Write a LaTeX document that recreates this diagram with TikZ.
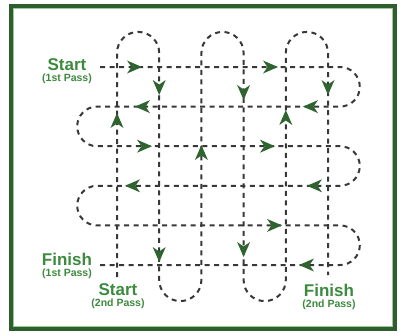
\documentclass[tikz,border=0pt]{standalone}
\usepackage{fontspec}
\setmainfont{Liberation Sans}
\usetikzlibrary{calc}
\definecolor{cLine}{HTML}{383838}
\definecolor{cArr} {HTML}{2F6330}
\definecolor{cTxt} {HTML}{3C8A3E}
\definecolor{cFrm} {HTML}{2E5E2E}
\definecolor{cFrmL}{HTML}{9CC89C}
\tikzset{
  pass/.style  ={draw=cLine,line width=2pt,dash pattern=on 5pt off 4.5pt},
  lbl/.style   ={text=cTxt,align=center,inner sep=0pt,
                 font=\bfseries\fontsize{17}{11}\selectfont},
  flowtip/.pic ={\fill[cArr] (0,0) -- (-15,6.5) -- (-10.5,0) -- (-15,-6.5) -- cycle;},
}
\newcommand\passtxt[2]{#1\\{\fontsize{10.5}{11}\selectfont #2}}

\begin{document}
\begin{tikzpicture}[x=1pt,y=-1pt]
\useasboundingbox (0,0) rectangle (402,333);

% frame
\draw[cFrm,line width=4pt] (11,5.5) rectangle (395,329);
\draw[cFrmL,line width=0.8pt] (13.6,8.1) rectangle (392.4,326.4);

% grid: rows of the 1st pass, columns of the 2nd pass
\foreach \i/\y in {1/67,2/106.6,3/146.2,4/185.8,5/225.4,6/265}
  \coordinate (row\i) at (0,\y);
\foreach \j/\x in {1/117,2/159.2,3/201.4,4/243.6,5/285.8,6/328}
  \coordinate (col\j) at (\x,0);
\coordinate (W) at (97,0);   % left turns
\coordinate (E) at (340,0);  % right turns
\coordinate (N) at (0,53);   % top turns
\coordinate (S) at (0,280);  % bottom turns

% labels
\node[lbl] (startA) at (67,70.8)  {\passtxt{Start}{(1st Pass)}};
\node[lbl] (finA)   at (67,265.5) {\passtxt{Finish}{(1st Pass)}};
\node[lbl] (startB) at (118,296.5){\passtxt{Start}{(2nd Pass)}};
\node[lbl] (finB)   at (329,296.5){\passtxt{Finish}{(2nd Pass)}};
\coordinate (inA)  at (100,67);
\coordinate (outA) at (97,265);
\coordinate (inB)  at (117,277);
\coordinate (outB) at (328,275);

% 1st pass: back and forth along the rows
\draw[pass] (inA) -- (row1-|E) arc[start angle=90,end angle=-90,radius=19.8pt]
  -- (row2-|W) arc[start angle=90,end angle=270,radius=19.8pt]
  -- (row3-|E) arc[start angle=90,end angle=-90,radius=19.8pt]
  -- (row4-|W) arc[start angle=90,end angle=270,radius=19.8pt]
  -- (row5-|E) arc[start angle=90,end angle=-90,radius=19.8pt]
  -- (outA);

% 2nd pass: up and down along the columns
\draw[pass] (inB) -- (col1|-N) arc[start angle=180,end angle=0,radius=21.1pt]
  -- (col2|-S) arc[start angle=180,end angle=360,radius=21.1pt]
  -- (col3|-N) arc[start angle=180,end angle=0,radius=21.1pt]
  -- (col4|-S) arc[start angle=180,end angle=360,radius=21.1pt]
  -- (col5|-N) arc[start angle=180,end angle=0,radius=21.1pt]
  -- (outB);

% direction marks
\foreach \x/\y/\a in {142/67/0,278/67/0,135/106.6/180,303/106.6/180,
                      152/146.2/0,275/146.2/0,125/185.8/180,307/185.8/180,
                      282/225.4/0,299/265/180,
                      117/113/90,159.2/95/-90,159.2/262/-90,201.4/145/90,
                      243.6/100/-90,243.6/257/-90,285.8/110/90,328/95/-90}
  \pic[rotate=\a] at (\x,\y) {flowtip};
\end{tikzpicture}
\end{document}
